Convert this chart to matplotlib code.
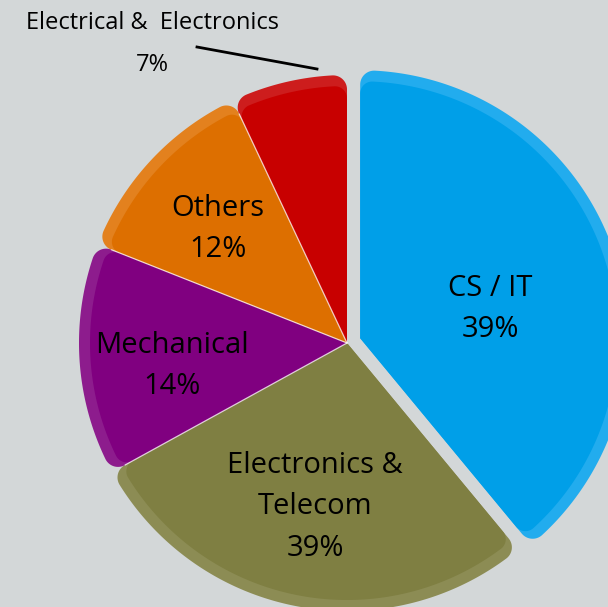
import numpy as np
import matplotlib
matplotlib.use("Agg")
import matplotlib.pyplot as plt
from matplotlib.patches import Polygon

# datos del gráfico
categories = ["CS / IT", "Electronics &\nTelecom", "Mechanical", "Others", "Electrical &  Electronics"]
values = [39, 28, 14, 12, 7]
pct_labels = ["39%", "39%", "14%", "12%", "7%"]
dark_colors = ["#009fe8", "#7f7f42", "#800080", "#dd6f00", "#c80000"]
rim_colors = ["#22acee", "#8c8c54", "#8d1c8d", "#e3811e", "#cd1d1d"]

W, H = 608, 607
bg = "#d3d7d8"
plt.rcParams['font.family'] = ['Open Sans', 'DejaVu Sans']

fig = plt.figure(figsize=(W / 100, H / 100), dpi=100, facecolor=bg)
ax = fig.add_axes([0, 0, 1, 1])
ax.set_facecolor(bg)

cx, cy, R = 347, H - 343, 268
# explode va en unidades de datos (píxeles aquí)
wedges, _ = ax.pie(values, colors=dark_colors, startangle=90, counterclock=False,
                   explode=[14, 0, 0, 0, 0], center=(cx, cy), radius=R, frame=True)
ax.set_xlim(0, W)
ax.set_ylim(0, H)
ax.set_aspect("equal")
ax.axis("off")


def rounded_wedge(c0, r, t1, t2, rc, n=40):
    # cuña con las esquinas exteriores redondeadas
    t1, t2 = np.radians(t1), np.radians(t2)
    d = np.arcsin(rc / (r - rc))
    pts = [c0]
    f1 = (r - rc) * np.array([np.cos(t1 + d), np.sin(t1 + d)])
    a = np.linspace(t1 - np.pi / 2, t1 + d, n)
    pts += list(f1 + rc * np.c_[np.cos(a), np.sin(a)] + c0)
    a = np.linspace(t1 + d, t2 - d, 200)
    pts += list(r * np.c_[np.cos(a), np.sin(a)] + c0)
    f2 = (r - rc) * np.array([np.cos(t2 - d), np.sin(t2 - d)])
    a = np.linspace(t2 - d, t2 + np.pi / 2, n)
    pts += list(f2 + rc * np.c_[np.cos(a), np.sin(a)] + c0)
    return np.array(pts)


for w, dc, rcol in zip(wedges, dark_colors, rim_colors):
    w.set_visible(False)
    c0 = np.array(w.center)
    ax.add_patch(Polygon(rounded_wedge(c0, w.r, w.theta1, w.theta2, 14), closed=True,
                         facecolor=rcol, edgecolor="none"))
    ax.add_patch(Polygon(rounded_wedge(c0, w.r - 11, w.theta1, w.theta2, 12), closed=True,
                         facecolor=dc, edgecolor="none"))

# líneas separadoras entre porciones contiguas (no la separada)
for wa, wb in zip(wedges[1:-1], wedges[2:]):
    t = np.radians(wa.theta1)
    ax.plot([cx, cx + (R - 15) * np.cos(t)], [cy, cy + (R - 15) * np.sin(t)],
            color="white", lw=0.9, alpha=0.75)

# etiquetas
fs = 21
ls = 1.55
ax.text(490, H - 309, categories[0] + "\n" + pct_labels[0], ha="center", va="center",
        fontsize=fs, linespacing=ls)
ax.text(315, H - 507, categories[1] + "\n" + pct_labels[1], ha="center", va="center",
        fontsize=fs, linespacing=ls)
ax.text(172, H - 366, categories[2] + "\n" + pct_labels[2], ha="center", va="center",
        fontsize=fs, linespacing=ls)
ax.text(218, H - 229, categories[3] + "\n" + pct_labels[3], ha="center", va="center",
        fontsize=fs, linespacing=ls)
ax.text(152, H - 44, categories[4] + "\n" + pct_labels[4], ha="center", va="center",
        fontsize=17, linespacing=2.0)
ax.plot([197, 317], [H - 47, H - 69], color="black", lw=2)

fig.savefig("out.png", dpi=100, facecolor=bg)
